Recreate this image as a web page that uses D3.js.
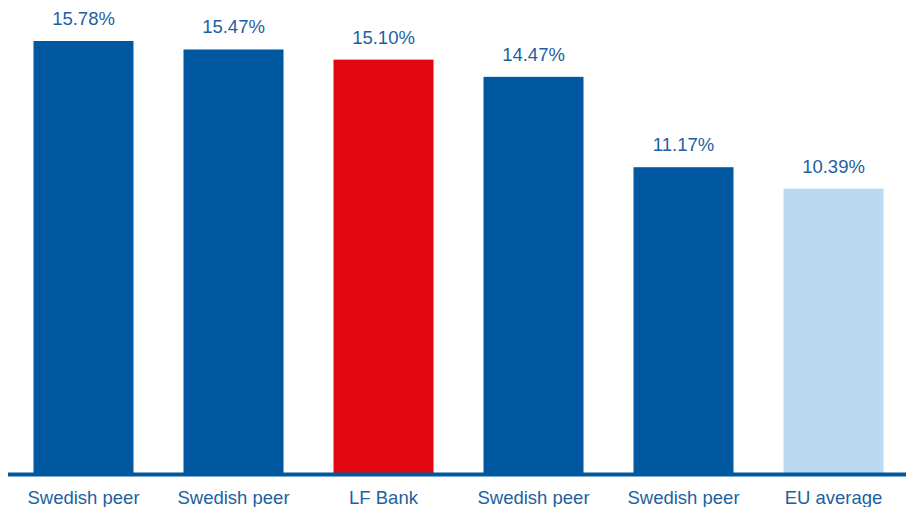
<!DOCTYPE html>
<html><head><meta charset="utf-8">
<script src="https://cdn.jsdelivr.net/npm/d3@7"></script>
<style>body{margin:0;background:#fff}svg{display:block}</style>
</head><body>
<svg id="c" width="906" height="507"></svg>
<script>
const categories = ["Swedish peer","Swedish peer","LF Bank","Swedish peer","Swedish peer","EU average"];
const values = [15.78, 15.47, 15.10, 14.47, 11.17, 10.39];
const colors = ["#0059A0","#0059A0","#E20613","#0059A0","#0059A0","#BBDAF2"];

const svg = d3.select("#c");
const baseY = 473;
const ids = categories.map((d,i)=>i);
const x = d3.scaleBand().domain(ids).range([8.5,908.5]).paddingInner(1/3).paddingOuter(1/6);
const y = d3.scaleLinear().domain([0,15.78]).range([baseY,41]);

svg.selectAll("rect.bar").data(values).join("rect")
  .attr("class","bar")
  .attr("x",(d,i)=>x(i)).attr("width",x.bandwidth())
  .attr("y",d=>y(d)).attr("height",d=>baseY-y(d))
  .attr("fill",(d,i)=>colors[i]);

svg.append("rect").attr("x",8).attr("y",472.5).attr("width",898).attr("height",4).attr("fill","#0059A0");

svg.selectAll("text.val").data(values).join("text")
  .attr("class","val")
  .attr("x",(d,i)=>x(i)+x.bandwidth()/2)
  .attr("y",d=>y(d)-16)
  .attr("text-anchor","middle")
  .attr("font-family","Liberation Sans, Arial, sans-serif")
  .attr("font-size",18.5)
  .attr("fill","#1D5FA0")
  .text(d=>d.toFixed(2)+"%");

svg.selectAll("text.cat").data(categories).join("text")
  .attr("class","cat")
  .attr("x",(d,i)=>x(i)+x.bandwidth()/2)
  .attr("y",503.5)
  .attr("text-anchor","middle")
  .attr("font-family","Liberation Sans, Arial, sans-serif")
  .attr("font-size",18.5)
  .attr("fill","#1D5FA0")
  .text(d=>d);
</script>
</body></html>
